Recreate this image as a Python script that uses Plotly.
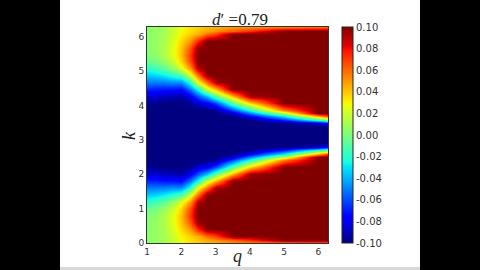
import plotly.graph_objects as go

# q (x) grid and k (y) grid
q_vals = [1.0, 1.25, 1.5, 1.75, 2.0, 2.25, 2.5, 2.75, 3.0, 3.5, 4.0, 5.0, 6.0, 6.3]
k_vals = [0, 0.1, 0.2, 0.4, 0.6, 0.8, 1.0, 1.2, 1.4, 1.6, 1.8, 2.0, 2.2, 2.4, 2.5,
          2.6, 2.7, 2.8, 2.9, 3.14,
          3.38, 3.48, 3.58, 3.68, 3.78, 3.88, 4.08, 4.28, 4.48, 4.68, 4.88, 5.08,
          5.28, 5.48, 5.68, 5.88, 6.08, 6.18, 6.28]

# values (rows = k, columns = q), estimated from the colours
N = -0.100
z_vals = [
    [0.004, 0.006, 0.009, 0.018, 0.027, 0.034, 0.038, 0.043, 0.045, 0.050, 0.052, 0.056, 0.060, 0.062],
    [0.004, 0.006, 0.009, 0.019, 0.028, 0.035, 0.040, 0.047, 0.051, 0.062, 0.073, 0.100, 0.100, 0.100],
    [0.004, 0.006, 0.010, 0.020, 0.030, 0.038, 0.045, 0.059, 0.070, 0.100, 0.100, 0.100, 0.100, 0.100],
    [0.003, 0.007, 0.011, 0.023, 0.036, 0.050, 0.075, 0.100, 0.100, 0.100, 0.100, 0.100, 0.100, 0.100],
    [0.002, 0.007, 0.012, 0.025, 0.040, 0.064, 0.097, 0.100, 0.100, 0.100, 0.100, 0.100, 0.100, 0.100],
    [0.000, 0.005, 0.012, 0.025, 0.041, 0.070, 0.100, 0.100, 0.100, 0.100, 0.100, 0.100, 0.100, 0.100],
    [-0.005, 0.000, 0.007, 0.020, 0.037, 0.066, 0.100, 0.100, 0.100, 0.100, 0.100, 0.100, 0.100, 0.100],
    [-0.019, -0.014, -0.007, 0.006, 0.024, 0.050, 0.092, 0.100, 0.100, 0.100, 0.100, 0.100, 0.100, 0.100],
    [-0.035, -0.032, -0.027, -0.019, -0.011, 0.022, 0.060, 0.100, 0.100, 0.100, 0.100, 0.100, 0.100, 0.100],
    [-0.050, -0.050, -0.049, -0.046, -0.046, -0.020, 0.028, 0.060, 0.095, 0.100, 0.100, 0.100, 0.100, 0.100],
    [-0.068, -0.069, -0.071, -0.071, -0.074, -0.052, -0.022, 0.020, 0.045, 0.100, 0.100, 0.100, 0.100, 0.100],
    [-0.085, -0.086, -0.089, -0.090, -0.093, -0.080, -0.058, -0.037, -0.006, 0.045, 0.095, 0.100, 0.100, 0.100],
    [-0.097, -0.098, N, N, N, -0.098, -0.085, -0.078, -0.060, -0.008, 0.037, 0.100, 0.100, 0.100],
    [N, N, N, N, N, N, N, N, -0.095, -0.060, -0.020, 0.057, 0.100, 0.100],
    [N, N, N, N, N, N, N, N, N, -0.085, -0.049, 0.015, 0.100, 0.100],
    [N, N, N, N, N, N, N, N, N, N, -0.077, -0.028, 0.047, 0.071],
    [N, N, N, N, N, N, N, N, N, N, N, -0.070, -0.020, 0.000],
    [N, N, N, N, N, N, N, N, N, N, N, N, -0.087, -0.071],
    [N, N, N, N, N, N, N, N, N, N, N, N, N, N],
    [N, N, N, N, N, N, N, N, N, N, N, N, N, N],
    [N, N, N, N, N, N, N, N, N, N, N, N, N, N],
    [N, N, N, N, N, N, N, N, N, N, N, N, -0.087, -0.071],
    [N, N, N, N, N, N, N, N, N, N, N, -0.070, -0.020, 0.000],
    [N, N, N, N, N, N, N, N, N, N, -0.077, -0.028, 0.047, 0.071],
    [N, N, N, N, N, N, N, N, N, -0.085, -0.049, 0.015, 0.100, 0.100],
    [N, N, N, N, N, N, N, N, -0.095, -0.060, -0.020, 0.057, 0.100, 0.100],
    [-0.097, -0.098, N, N, N, -0.098, -0.085, -0.078, -0.060, -0.008, 0.037, 0.100, 0.100, 0.100],
    [-0.085, -0.086, -0.089, -0.090, -0.093, -0.080, -0.058, -0.037, -0.006, 0.045, 0.095, 0.100, 0.100, 0.100],
    [-0.068, -0.069, -0.071, -0.071, -0.074, -0.052, -0.022, 0.020, 0.045, 0.100, 0.100, 0.100, 0.100, 0.100],
    [-0.050, -0.050, -0.049, -0.046, -0.046, -0.020, 0.028, 0.060, 0.095, 0.100, 0.100, 0.100, 0.100, 0.100],
    [-0.035, -0.032, -0.027, -0.019, -0.011, 0.022, 0.060, 0.100, 0.100, 0.100, 0.100, 0.100, 0.100, 0.100],
    [-0.019, -0.014, -0.007, 0.006, 0.024, 0.050, 0.092, 0.100, 0.100, 0.100, 0.100, 0.100, 0.100, 0.100],
    [-0.005, 0.000, 0.007, 0.020, 0.037, 0.066, 0.100, 0.100, 0.100, 0.100, 0.100, 0.100, 0.100, 0.100],
    [0.000, 0.005, 0.012, 0.025, 0.041, 0.070, 0.100, 0.100, 0.100, 0.100, 0.100, 0.100, 0.100, 0.100],
    [0.002, 0.007, 0.012, 0.025, 0.040, 0.064, 0.097, 0.100, 0.100, 0.100, 0.100, 0.100, 0.100, 0.100],
    [0.003, 0.007, 0.011, 0.023, 0.036, 0.050, 0.075, 0.100, 0.100, 0.100, 0.100, 0.100, 0.100, 0.100],
    [0.004, 0.006, 0.010, 0.020, 0.030, 0.038, 0.045, 0.059, 0.070, 0.100, 0.100, 0.100, 0.100, 0.100],
    [0.004, 0.006, 0.009, 0.019, 0.028, 0.035, 0.040, 0.047, 0.051, 0.062, 0.073, 0.100, 0.100, 0.100],
    [0.004, 0.006, 0.009, 0.018, 0.027, 0.034, 0.038, 0.043, 0.045, 0.050, 0.052, 0.056, 0.060, 0.062],
]

cbar_ticks = [0.10, 0.08, 0.06, 0.04, 0.02, 0.00, -0.02, -0.04, -0.06, -0.08, -0.10]
cbar_labels = ["0.10", "0.08", "0.06", "0.04", "0.02", "0.00", "-0.02", "-0.04", "-0.06", "-0.08", "-0.10"]
x_ticks = [1, 2, 3, 4, 5, 6]
y_ticks = [0, 1, 2, 3, 4, 5, 6]
title_text = "<i>d</i>′ =0.79"
x_label = "<i>q</i>"
y_label = "<i>k</i>"

# matplotlib 'jet' colormap
_jet = {
    'r': [(0, 0), (0.35, 0), (0.66, 1), (0.89, 1), (1, 0.5)],
    'g': [(0, 0), (0.125, 0), (0.375, 1), (0.64, 1), (0.91, 0), (1, 0)],
    'b': [(0, 0.5), (0.11, 1), (0.34, 1), (0.65, 0), (1, 0)],
}


def _chan(pts, t):
    for (a, va), (b, vb) in zip(pts[:-1], pts[1:]):
        if a <= t <= b:
            return va + (vb - va) * (t - a) / (b - a)
    return pts[-1][1]


stops = sorted(set([p[0] for c in _jet.values() for p in c]))
jet = []
for t in stops:
    r, g, b = (_chan(_jet[c], t) for c in 'rgb')
    jet.append([t, f"rgb({round(r*255)},{round(g*255)},{round(b*255)})"])

W, H = 480, 270
ML, MR, MT, MB = 147, 152, 27, 27
PW, PH = W - ML - MR, H - MT - MB


def px(xp):
    return (xp - ML) / PW


def py(yp):
    return (H - MB - yp) / PH


fig = go.Figure()
fig.add_trace(go.Heatmap(
    x=q_vals, y=k_vals, z=z_vals,
    zmin=-0.1, zmax=0.1, colorscale=jet, zsmooth='best',
    colorbar=dict(
        x=px(342), xanchor='left', xpad=0, y=0.5, yanchor='middle', len=1, ypad=0,
        thickness=11, outlinewidth=1, outlinecolor='#222',
        tickvals=cbar_ticks, ticktext=cbar_labels, ticks='',
        tickfont=dict(family='DejaVu Sans', size=10, color='#333'),
    ),
))

fig.update_layout(
    width=W, height=H,
    margin=dict(l=ML, r=MR, t=MT, b=MB, pad=0, autoexpand=False),
    paper_bgcolor='black', plot_bgcolor='white',
    title=dict(text=title_text, x=px(237.5), xanchor='center', y=1 - 19 / H, yanchor='middle',
               font=dict(family='Liberation Serif', size=17, color='#222')),
    xaxis=dict(range=[1, 6.2832], tickvals=x_ticks, showgrid=False, zeroline=False,
               showline=True, mirror=True, linecolor='#333', linewidth=1, ticks='',
               tickfont=dict(family='DejaVu Sans', size=9, color='#333')),
    yaxis=dict(range=[0, 6.2832], tickvals=y_ticks, showgrid=False, zeroline=False,
               showline=True, mirror=True, linecolor='#333', linewidth=1, ticks='',
               tickfont=dict(family='DejaVu Sans', size=9, color='#333')),
    annotations=[
        dict(text=x_label, xref='paper', yref='paper', x=px(237.5), y=py(256),
             xanchor='center', yanchor='middle', showarrow=False,
             font=dict(family='Liberation Serif', size=18, color='#222')),
        dict(text=y_label, xref='paper', yref='paper', x=px(129), y=py(136),
             xanchor='center', yanchor='middle', showarrow=False, textangle=-90,
             font=dict(family='Liberation Serif', size=18, color='#222')),
    ],
    shapes=[
        dict(type='rect', xref='paper', yref='paper', layer='below',
             x0=px(60), x1=px(420), y0=py(270), y1=py(0),
             fillcolor='white', line=dict(width=0)),
        dict(type='rect', xref='paper', yref='paper', layer='below',
             x0=px(60), x1=px(420), y0=py(270), y1=py(267),
             fillcolor='#d8d8d8', line=dict(width=0)),
    ],
)

fig.write_html("out.html")
